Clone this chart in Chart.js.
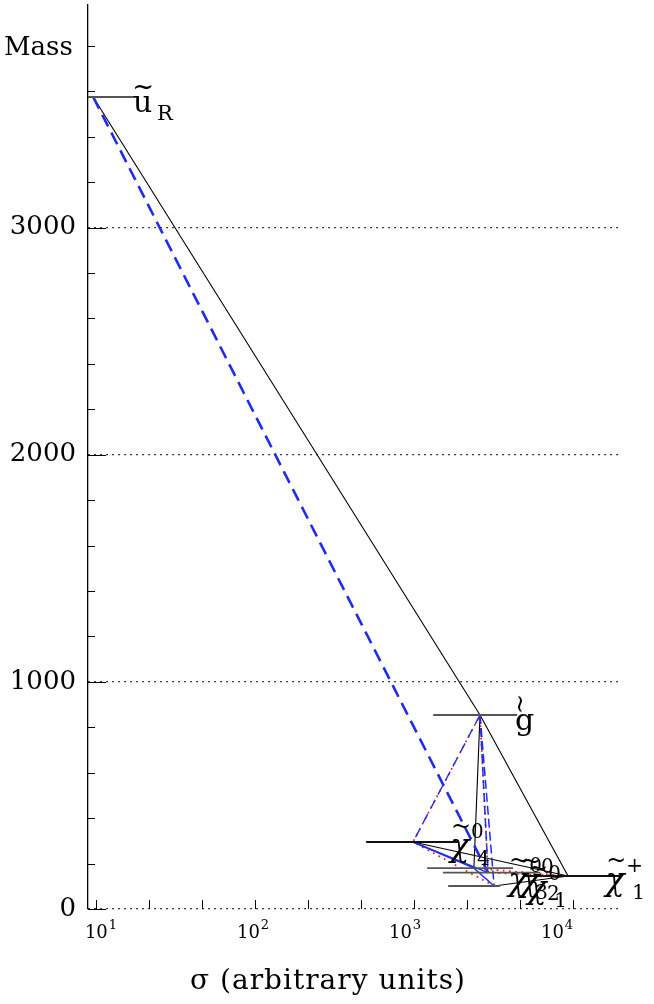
<!DOCTYPE html>
<html>
<head>
<meta charset="utf-8">
<script src="https://cdn.jsdelivr.net/npm/chart.js@4"></script>
<style>
  html, body { margin: 0; padding: 0; background: #fff; }
  #wrap { width: 654px; height: 1004px; }
</style>
</head>
<body>
<div id="wrap"><canvas id="c" width="654" height="1004"></canvas></div>
<script>
// particles: point (sigma, mass) and the extent of each mass level
const particles = ["uR", "gluino", "chi4", "chi3", "chi2", "chi1", "chip1"];
const sigma   = [9.6, 2600, 985, 2380, 2920, 3190, 9300];
const mass    = [3575, 854, 295, 180, 160, 101, 145];
const segLow  = [8.9, 1320, 500, 1210, 1520, 1640, 5000];
const segHigh = [17.6, 4450, 1890, 4200, 6200, 3480, 19800];

// decay paths, as index lists into the particle arrays
const blackPaths      = [[0, 1, 6], [1, 3], [2, 6], [5, 6]];
const blueThickPaths  = [[0, 4]];
const blueDashPaths   = [[1, 4], [1, 5]];
const blueDotDash     = [[1, 2]];
const blueSolidPaths  = [[2, 3, 5], [2, 4]];
const redDotPaths     = [[1, 2], [1, 4], [2, 5], [4, 6], [3, 6]];

const yTicks = [0, 1000, 2000, 3000];
const xDecades = [1, 2, 3, 4];

const X_MIN = 8.906, X_MAX = 20320;
const Y_MIN = 0, Y_MAX = 3980;

const SERIF = "'DejaVu Serif', 'Liberation Serif', serif";

function pathData(idx) {
  return idx.map(i => ({ x: sigma[i], y: mass[i] }));
}

function line(idx, color, width, dash) {
  return {
    data: pathData(idx),
    showLine: true,
    pointRadius: 0,
    borderColor: color,
    borderWidth: width,
    borderDash: dash || [],
    fill: false
  };
}

const datasets = [];

// mass levels
particles.forEach((p, i) => {
  datasets.push({
    data: [{ x: segLow[i], y: mass[i] }, { x: segHigh[i], y: mass[i] }],
    showLine: true,
    pointRadius: 0,
    borderColor: i === 2 || i === 6 ? "#111" : "#555",
    borderWidth: 1.9,
    fill: false
  });
});

blueThickPaths.forEach(p => datasets.push(line(p, "#1f2cf0", 2.6, [13, 7])));
blueDashPaths.forEach(p => datasets.push(line(p, "#1f2cf0", 1.5, [9, 4])));
blueDotDash.forEach(p => datasets.push(line(p, "#1f2cf0", 1.4, [10, 6])));
blueSolidPaths.forEach(p => datasets.push(line(p, "#1f2cf0", 1.5)));
redDotPaths.forEach(p => {
  const d = line(p, "#ff1010", 1.7, [1.7, 4.5]);
  d.borderDashOffset = 2;
  datasets.push(d);
});
blackPaths.forEach(p => datasets.push(line(p, "#000", 1.1)));

/* ---------------------------------------------------
    AXIS DECORATION + LABELS
---------------------------------------------------- */
const decor = {
  id: "decor",
  afterDatasetsDraw(chart) {
    const { ctx, chartArea: a, scales: { x, y } } = chart;
    ctx.save();
    ctx.strokeStyle = "#000";
    ctx.lineWidth = 1;

    // inward ticks on mass axis
    for (let v = 0; v < Y_MAX; v += 200) {
      const py = Math.round(y.getPixelForValue(v)) + 0.5;
      ctx.beginPath();
      ctx.moveTo(a.left, py);
      ctx.lineTo(a.left + (v % 1000 === 0 ? 18 : 7), py);
      ctx.stroke();
    }
    // ticks on sigma axis every third of a decade
    for (let k = 0; k < 10; k++) {
      const px = Math.round(x.getPixelForValue(Math.pow(10, 1 + k / 3))) + 0.5;
      ctx.beginPath();
      ctx.moveTo(px, a.bottom);
      ctx.lineTo(px, a.bottom - 9);
      ctx.stroke();
    }

    ctx.fillStyle = "#000";
    ctx.textBaseline = "alphabetic";

    // decade labels
    xDecades.forEach(e => {
      const px = x.getPixelForValue(Math.pow(10, 1 + (e - 1) * 0.956)) + 5;
      ctx.font = "18px " + SERIF;
      const w1 = ctx.measureText("10").width;
      ctx.font = "13px " + SERIF;
      const w2 = ctx.measureText(String(e)).width;
      const left = px - (w1 + w2 + 1) / 2;
      ctx.font = "18px " + SERIF;
      ctx.textAlign = "left";
      ctx.fillText("10", left, 938);
      ctx.font = "13px " + SERIF;
      ctx.fillText(String(e), left + w1 + 1, 929);
    });

    // axis titles
    ctx.font = "26px " + SERIF;
    ctx.textAlign = "left";
    ctx.fillText("Mass", 4, 55);
    ctx.textAlign = "center";
    ctx.font = "28px " + SERIF;
    ctx.letterSpacing = "1px";
    ctx.fillText("\u03c3 (arbitrary units)", 328, 989);
    ctx.letterSpacing = "0px";

    // particle names
    const at = i => ({ px: x.getPixelForValue(segHigh[i]), py: y.getPixelForValue(mass[i]) });
    const txt = (s, px, py, size, italic) => {
      ctx.font = (italic ? "italic " : "") + size + "px " + SERIF;
      ctx.textAlign = "left";
      ctx.fillText(s, px, py);
    };
    const tilde = (px, py, size, rot) => {
      ctx.save();
      ctx.translate(px, py);
      if (rot) ctx.rotate(rot);
      ctx.font = size + "px " + SERIF;
      ctx.textAlign = "center";
      ctx.textBaseline = "middle";
      ctx.fillText("~", 0, 0);
      ctx.restore();
    };

    // u_R
    let p = at(0);
    txt("u", p.px - 2, p.py + 15, 30);
    tilde(p.px + 8, p.py - 9, 26);
    txt("R", p.px + 22, p.py + 23, 21);

    // gluino
    p = at(1);
    txt("g", p.px - 2, p.py + 15, 30);
    tilde(p.px + 5, p.py - 11, 24, -Math.PI / 2);

    // neutralinos / chargino
    const chi = (i, dx, dy, sup, sub) => {
      const q = at(i);
      const bx = q.px + dx, by = q.py + dy;
      txt("\u03c7", bx, by, 32, true);
      tilde(bx + 11, by - 28, 24);
      txt(sup, bx + 21, by - 18, 20);
      txt(sub, bx + 27, by + 9, 20);
    };
    chi(2, -8, 14, "0", "4");
    chi(3, -5, 22, "0", "3");
    chi(4, -20, 18, "0", "2");
    chi(5, 27, 12, "0", "1");
    chi(6, -15, 14, "+", "1");

    ctx.restore();
  }
};

new Chart(document.getElementById("c"), {
  type: "scatter",
  data: { datasets },
  options: {
    responsive: false,
    animation: false,
    layout: { padding: { top: 5, right: 32, left: 0, bottom: 0 } },
    plugins: { legend: { display: false }, tooltip: { enabled: false } },
    scales: {
      x: {
        type: "logarithmic",
        min: X_MIN,
        max: X_MAX,
        ticks: { display: false },
        grid: { display: false, drawTicks: false },
        border: { display: false },
        afterFit: s => {
          s.height = 95;
          s.paddingLeft = 0; s.paddingRight = 0;
        }
      },
      y: {
        min: Y_MIN,
        max: Y_MAX,
        afterBuildTicks: s => { s.ticks = yTicks.map(v => ({ value: v })); },
        ticks: {
          color: "#000",
          padding: 12,
          font: { family: "DejaVu Serif", size: 26 },
          callback: v => String(v)
        },
        grid: { drawTicks: false, color: "#000", lineWidth: 1.2 },
        border: { display: true, color: "#000", width: 1.3, dash: [1.5, 4.5] },
        afterFit: s => {
          s.width = 88;
          s.paddingTop = 0; s.paddingBottom = 0;
        }
      }
    }
  },
  plugins: [decor]
});
</script>
</body>
</html>
